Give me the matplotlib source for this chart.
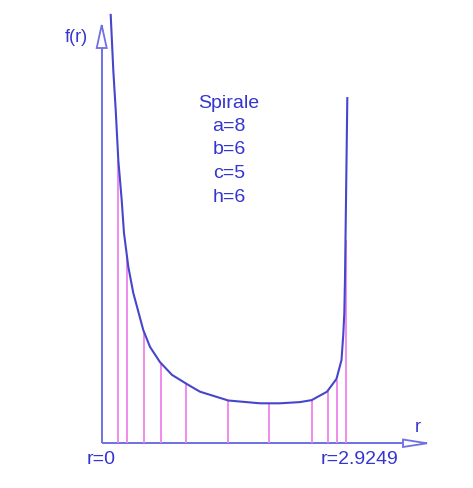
import matplotlib
matplotlib.use("Agg")
import matplotlib.pyplot as plt
from matplotlib.patches import Polygon

# ---- data ----
r_curve = [0.0, 0.032, 0.062, 0.094, 0.136, 0.164, 0.218, 0.279, 0.403, 0.486,
           0.609, 0.758, 0.959, 1.104, 1.454, 1.845, 2.092, 2.340, 2.485, 2.674,
           2.791, 2.853, 2.875, 2.888, 2.896, 2.909, 2.925]
f_curve = [10.71, 9.33, 8.33, 7.08, 6.08, 5.26, 4.41, 3.76, 2.83, 2.41,
           2.03, 1.71, 1.46, 1.29, 1.07, 1.00, 1.00, 1.03, 1.08, 1.29,
           1.61, 2.08, 2.71, 3.26, 4.08, 6.08, 8.63]
r_nodes = [0.094, 0.198, 0.412, 0.618, 0.927, 1.446, 1.957, 2.488, 2.688, 2.799, 2.909]
f_nodes = [7.08, 4.70, 2.78, 2.01, 1.48, 1.07, 1.00, 1.08, 1.31, 1.58, 5.08]
r_max = 2.9249
info_lines = ["Spirale", "a=8", "b=6", "c=5", "h=6"]

# ---- styling ----
W, H = 473, 488
AXIS_C = "#6f6fe6"
CURVE_C = "#4646cc"
NODE_C = "#ee82ee"
TEXT_C = "#3535d0"
FONT = "Liberation Sans"

# pixel -> data mapping helpers (layout only)
x0_px, x1_px = 110.7, 347.3
sx = r_max / (x1_px - x0_px)
base_px = 443.3
sy = 1 / 40.0

def px(x):
    return (x - x0_px) * sx

def py(y):
    return (base_px - y) * sy

fig = plt.figure(figsize=(W / 100, H / 100), dpi=100)
ax = fig.add_axes([0, 0, 1, 1])
ax.set_xlim(px(0), px(W))
ax.set_ylim(py(H), py(0))
ax.axis("off")

# axes
ax_x = px(101.7)
ax.plot([ax_x, ax_x], [0, py(25)], color=AXIS_C, lw=1.4, solid_capstyle="butt")
ax.plot([ax_x, px(427)], [0, 0], color=AXIS_C, lw=1.4, solid_capstyle="butt")
# hollow arrow heads
ax.add_patch(Polygon([[px(96.7), py(48)], [px(106.7), py(48)], [ax_x, py(25)]],
                     closed=True, fill=True, facecolor="white", edgecolor=AXIS_C, lw=1.3, zorder=3))
ax.add_patch(Polygon([[px(403), py(439.5)], [px(403), py(447)], [px(427), 0]],
                     closed=True, fill=True, facecolor="white", edgecolor=AXIS_C, lw=1.3, zorder=3))

# node lines
ax.vlines(r_nodes, 0, f_nodes, color=NODE_C, lw=1.3, zorder=2)

# curve
ax.plot(r_curve, f_curve, color=CURVE_C, lw=1.5, zorder=4, solid_joinstyle="round")

ax.text(px(76), py(37), "f(r)", color=TEXT_C, fontsize=13, family=FONT, ha="center", va="center")
ax.text(px(418), py(427), "r", color=TEXT_C, fontsize=13, family=FONT, ha="center", va="center")
ax.text(px(101), py(459), "r=0", color=TEXT_C, fontsize=14, family=FONT, ha="center", va="center")
ax.text(px(359), py(459), "r=%.4f" % r_max, color=TEXT_C, fontsize=14, family=FONT, ha="center", va="center")

y_start, dy = 103, 23.5
for i, s in enumerate(info_lines):
    ax.text(px(229), py(y_start + i * dy), s, color=TEXT_C, fontsize=14, family=FONT,
            ha="center", va="center")

fig.savefig("out.png", dpi=100)
